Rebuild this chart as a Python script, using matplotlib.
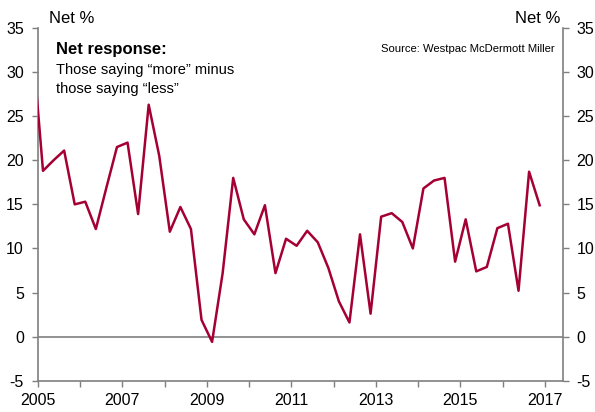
import matplotlib.pyplot as plt
import numpy as np

plt.rcParams['font.family'] = ['Liberation Sans', 'DejaVu Sans']
plt.rcParams['axes.unicode_minus'] = False

# quarterly survey, mid-quarter months (Nov 2004 .. Nov 2016)
start_year = 2004.875
net_pct = [
    33.2, 18.8, 20.0, 21.1, 15.0, 15.3, 12.2, 16.9, 21.5,
    22.0, 13.9, 26.3, 20.5, 11.9, 14.7, 12.2, 1.9,
    -0.6, 7.2, 18.0, 13.3, 11.6, 14.9, 7.2, 11.1,
    10.3, 12.0, 10.7, 7.8, 4.0, 1.6, 11.6, 2.6,
    13.6, 14.0, 13.0, 10.0, 16.8, 17.7, 18.0, 8.5,
    13.3, 7.4, 7.9, 12.3, 12.8, 5.2, 18.7, 14.9,
]
years = start_year + 0.25 * np.arange(len(net_pct))

line_color = '#A50034'
axis_color = '#7f7f7f'

fig = plt.figure(figsize=(5.95, 4.12), dpi=100)
ax = fig.add_axes([0.0634, 0.076, 0.8823, 0.856])

ax.axhline(0, color=axis_color, lw=1.2, zorder=1)
ax.plot(years, net_pct, color=line_color, lw=1.8, zorder=3)

ax.set_xlim(2005, 2017.42)
ax.set_ylim(-5, 35)
ax.set_xticks(np.arange(2005, 2018, 2))
ax.set_xticks(np.arange(2006, 2018, 2), minor=True)
ax.set_yticks(np.arange(-5, 36, 5))

for side in ['left', 'right', 'bottom']:
    ax.spines[side].set_color(axis_color)
    ax.spines[side].set_linewidth(1.2)
ax.spines['top'].set_visible(False)

ax.tick_params(axis='y', which='both', direction='out', length=4, width=1,
               color=axis_color, labelsize=11.5, left=True, right=True,
               labelleft=True, labelright=True, pad=6)
ax.tick_params(axis='x', which='both', direction='out', length=4, width=1,
               color=axis_color, labelsize=11.5, pad=5)

# axis titles above the plot
ax.text(0.022, 1.005, 'Net %', transform=ax.transAxes, fontsize=12,
        ha='left', va='bottom')
ax.text(0.995, 1.005, 'Net %', transform=ax.transAxes, fontsize=12,
        ha='right', va='bottom')

ax.text(0.034, 0.96, 'Net response:', transform=ax.transAxes, fontsize=12,
        fontweight='bold', ha='left', va='top')
ax.text(0.034, 0.9, 'Those saying \u201cmore\u201d minus\nthose saying \u201cless\u201d',
        transform=ax.transAxes, fontsize=10.5, ha='left', va='top', linespacing=1.4)
ax.text(0.985, 0.955, 'Source: Westpac McDermott Miller', transform=ax.transAxes,
        fontsize=8.1, ha='right', va='top')

fig.savefig('out.png', dpi=100)
